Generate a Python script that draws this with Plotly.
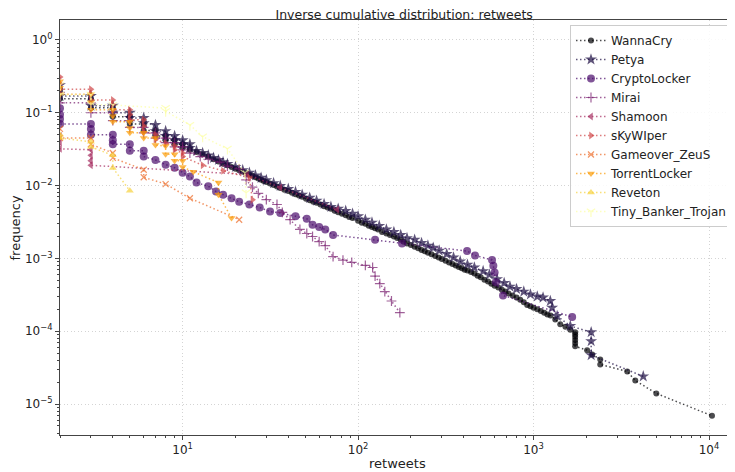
import plotly.graph_objects as go

SERIES_NAMES = ["WannaCry", "Petya", "CryptoLocker", "Mirai", "Shamoon", "sKyWIper",
                "Gameover_ZeuS", "TorrentLocker", "Reveton", "Tiny_Banker_Trojan"]

WANNACRY_X = [2, 2, 3, 3, 4, 4, 5, 5, 6, 6, 7, 7, 8, 8, 9, 9, 10, 10,
              11, 12, 13, 14, 15, 16, 17, 18, 19, 20, 21, 22, 23, 24, 25, 26, 27, 28, 29, 30,
              31.5, 33, 34.5, 36, 38, 40, 42, 44, 46, 48, 50.5, 53, 55.5, 58, 61, 64, 67, 70, 73.5, 77, 81, 85, 89, 93,
              100, 105, 110, 115, 120, 125, 130, 137, 145, 152, 160, 167, 175, 182, 190,
              200, 210, 220, 230, 240, 250, 262, 275, 288, 300, 315, 330, 345, 360, 375, 390, 405, 420, 440, 460, 480, 500,
              525, 550, 575, 600, 630, 660, 690, 720, 760, 800, 840, 880, 920, 960, 1000, 1050, 1100, 1150, 1200, 1250, 1330, 1420,
              1520, 1620, 1727, 1727, 1727, 1727, 1727, 1727,
              2020, 2160, 2400, 2400, 3420, 3800, 5010, 10400]
WANNACRY_Y = [0.20, 0.156, 0.156, 0.117, 0.117, 0.088, 0.088, 0.07, 0.07, 0.057, 0.057, 0.048, 0.048, 0.042, 0.042, 0.037, 0.037, 0.033,
              0.031, 0.029, 0.027, 0.025, 0.023, 0.0215, 0.020, 0.019, 0.018, 0.017, 0.0162, 0.0155, 0.0148, 0.0142, 0.0136, 0.013, 0.0125, 0.012, 0.0116, 0.0112,
              0.0107, 0.0102, 0.0097, 0.0093, 0.0088, 0.0084, 0.008, 0.0076, 0.0073, 0.007, 0.0066, 0.0063, 0.006, 0.0058, 0.0055, 0.0052, 0.005, 0.0048, 0.0045, 0.0043, 0.0041, 0.0039, 0.0037, 0.0036,
              0.0033, 0.0031, 0.003, 0.0028, 0.0027, 0.0026, 0.0025, 0.0023, 0.0022, 0.0021, 0.002, 0.0019, 0.0018, 0.0017, 0.0016,
              0.00153, 0.00145, 0.00138, 0.0013, 0.00125, 0.0012, 0.00114, 0.00108, 0.00103, 0.00098, 0.00093, 0.00088, 0.00084, 0.0008, 0.00076, 0.00073, 0.0007, 0.00068, 0.00065, 0.00062, 0.00058, 0.00055,
              0.00051, 0.00048, 0.00045, 0.00042, 0.0004, 0.00037, 0.00035, 0.00033, 0.00031, 0.00029, 0.00027, 0.00025, 0.00023, 0.00022, 0.00021, 0.0002, 0.00019, 0.00018, 0.00017, 0.000165, 0.000145, 0.000125,
              0.000115, 0.000105, 9.7e-5, 9.0e-5, 8.3e-5, 7.6e-5, 6.9e-5, 6.2e-5,
              5.5e-5, 4.8e-5, 4.1e-5, 3.5e-5, 2.8e-5, 2.1e-5, 1.4e-5, 6.9e-6]

PETYA_X = [2, 2, 3, 3, 4, 4, 5, 5, 6, 6, 7, 7, 8, 8, 9, 9, 10, 10,
           11, 11, 12, 13, 14, 15, 16, 17, 18,
           20, 22, 24, 26, 28, 30,
           33, 36, 40, 44, 48, 53, 58, 64, 70, 77, 85, 93,
           100, 110, 120, 132, 145, 160, 175, 190,
           210, 230, 250, 268, 290, 320, 350, 382, 420, 460,
           516, 560, 620, 680, 734, 800, 880, 960, 1050, 1133,
           1246, 1276, 1363, 1620, 2130, 2130, 2130, 4220]
PETYA_Y = [0.24, 0.17, 0.17, 0.125, 0.125, 0.1, 0.1, 0.085, 0.085, 0.072, 0.068, 0.056, 0.056, 0.048, 0.048, 0.042, 0.042, 0.037,
           0.037, 0.033, 0.03, 0.028, 0.026, 0.024, 0.0225, 0.021, 0.0198,
           0.018, 0.0163, 0.015, 0.0138, 0.0128, 0.0119,
           0.0108, 0.0099, 0.009, 0.0082, 0.0075, 0.0068, 0.0062, 0.0056, 0.0051, 0.0048, 0.0045, 0.0041,
           0.0038, 0.0034, 0.0031, 0.0028, 0.0025, 0.0023, 0.0021, 0.0019,
           0.0018, 0.00163, 0.0015, 0.0014, 0.00128, 0.00115, 0.00103, 0.00091, 0.00082, 0.00075,
           0.00067, 0.0006, 0.00052, 0.00046, 0.00041, 0.00038, 0.00035, 0.00032, 0.0003, 0.00029,
           0.00026, 0.00021, 0.000162, 0.000118, 9.7e-5, 7.3e-5, 4.7e-5, 2.4e-5]

CRYPTO_X = [2, 2, 2, 2, 3, 3, 3, 4, 4, 4, 5, 5, 6, 6,
            7, 8, 9, 10, 11, 12, 14, 15.5, 17, 19, 21, 24,
            27.5, 31.5, 36, 44, 51, 55, 60, 65, 72,
            125, 178, 418, 464, 580, 590, 600, 610, 670, 1660]
CRYPTO_Y = [0.115, 0.095, 0.082, 0.07, 0.07, 0.06, 0.05, 0.05, 0.042, 0.037, 0.037, 0.03, 0.03, 0.025,
            0.0225, 0.0194, 0.0176, 0.015, 0.0133, 0.011, 0.0098, 0.0083, 0.0075, 0.0067, 0.006, 0.0055,
            0.005, 0.0044, 0.0042, 0.0038, 0.0035, 0.0029, 0.0027, 0.0025, 0.0021,
            0.0018, 0.0016, 0.00126, 0.0011, 0.00095, 0.00079, 0.00064, 0.00047, 0.00031, 0.000157]

MIRAI_X = [2, 2, 3, 3, 4, 4, 5, 5, 6, 6, 7, 7, 8, 8, 9, 9, 10, 10,
           11, 12.6, 14, 16.3, 18, 21, 23, 25, 27, 30,
           34.5, 37, 41, 46.6, 51, 55, 60, 65, 72, 82, 92,
           110, 121, 125, 133, 142, 155, 173]
MIRAI_Y = [0.19, 0.137, 0.137, 0.1, 0.1, 0.078, 0.078, 0.063, 0.063, 0.053, 0.053, 0.045, 0.045, 0.039, 0.039, 0.034, 0.034, 0.031,
           0.028, 0.025, 0.023, 0.021, 0.0185, 0.017, 0.012, 0.0095, 0.0078, 0.0064,
           0.0055, 0.0043, 0.0034, 0.0025, 0.0022, 0.002, 0.0017, 0.0015, 0.00106, 0.00095, 0.00088,
           0.0008, 0.00075, 0.00057, 0.00045, 0.00035, 0.00026, 0.00018]

SHAMOON_X = [2, 2, 2, 3, 3, 3, 3, 23.3, 36, 76]
SHAMOON_Y = [0.048, 0.04, 0.032, 0.031, 0.026, 0.022, 0.019, 0.0142, 0.0094, 0.0047]

SKYWIPER_X = [2, 2, 2, 3, 3, 3, 4, 4, 4, 5, 5, 5, 6, 6, 6, 7, 7, 8, 9, 9, 10, 10, 13, 17, 24, 25]
SKYWIPER_Y = [0.31, 0.25, 0.21, 0.21, 0.18, 0.15, 0.15, 0.13, 0.11, 0.11, 0.095, 0.08, 0.08, 0.066, 0.055,
              0.05, 0.043, 0.038, 0.035, 0.031, 0.028, 0.025, 0.019, 0.016, 0.0128, 0.0064]

GAMEOVER_X = [2, 2, 3, 3, 4, 4, 6, 6, 8, 11, 21]
GAMEOVER_Y = [0.06, 0.045, 0.045, 0.037, 0.028, 0.024, 0.0165, 0.013, 0.0105, 0.0067, 0.0034]

TORRENT_X = [2, 2, 2, 3, 3, 3, 4, 4, 4, 5, 5, 5, 6, 6, 7, 7, 8, 8, 9, 9, 10, 10, 11.5, 16, 16, 19]
TORRENT_Y = [0.27, 0.22, 0.18, 0.18, 0.14, 0.11, 0.11, 0.09, 0.075, 0.075, 0.062, 0.053, 0.053, 0.045,
             0.045, 0.036, 0.035, 0.027, 0.027, 0.022, 0.022, 0.018, 0.0155, 0.011, 0.0075, 0.0036]

REVETON_X = [2, 2, 3, 3, 4, 4, 5]
REVETON_Y = [0.05, 0.045, 0.04, 0.034, 0.026, 0.0175, 0.0085]

TINY_X = [2, 2, 3, 3, 4, 8, 8, 11, 13, 18, 22.6, 23]
TINY_Y = [0.24, 0.176, 0.176, 0.13, 0.128, 0.116, 0.105, 0.068, 0.047, 0.032, 0.015, 0.008]

SERIES_X = [WANNACRY_X, PETYA_X, CRYPTO_X, MIRAI_X, SHAMOON_X, SKYWIPER_X,
            GAMEOVER_X, TORRENT_X, REVETON_X, TINY_X]
SERIES_Y = [WANNACRY_Y, PETYA_Y, CRYPTO_Y, MIRAI_Y, SHAMOON_Y, SKYWIPER_Y,
            GAMEOVER_Y, TORRENT_Y, REVETON_Y, TINY_Y]

COLORS = [(0, 0, 4), (27, 12, 65), (74, 12, 107), (120, 28, 109), (165, 44, 96),
          (207, 68, 70), (237, 105, 37), (251, 155, 6), (247, 209, 61), (252, 255, 164)]
SYMBOLS = ["circle", "star", "circle", "cross-thin-open", "triangle-left", "triangle-right",
           "x-thin-open", "triangle-down", "triangle-up", "y-down-open"]
SIZES = [6, 9, 8, 7, 7, 7, 6, 7, 7, 7]
ALPHA = 0.7

X_TICKS = [10, 100, 1000, 10000]
X_TICKTEXT = ["10<sup>1</sup>", "10<sup>2</sup>", "10<sup>3</sup>", "10<sup>4</sup>"]
Y_TICKS = [1, 0.1, 0.01, 0.001, 0.0001, 0.00001]
Y_TICKTEXT = ["10<sup>0</sup>", "10<sup>−1</sup>", "10<sup>−2</sup>", "10<sup>−3</sup>",
              "10<sup>−4</sup>", "10<sup>−5</sup>"]

FONT = "DejaVu Sans"

# The page body has an 8px margin, so the figure is sized to fit the window exactly.
FIG_W, FIG_H = 727, 464
M_L, M_R, M_T, M_B = 52, 1, 12, 37
PLOT_W = FIG_W - M_L - M_R
PLOT_H = FIG_H - M_T - M_B

fig = go.Figure()
for name, xs, ys, c, sym, sz in zip(SERIES_NAMES, SERIES_X, SERIES_Y, COLORS, SYMBOLS, SIZES):
    rgba = "rgba(%d,%d,%d,%.2f)" % (c[0], c[1], c[2], ALPHA)
    is_open = sym.endswith("-open")
    marker = dict(symbol=sym, size=sz, color=rgba)
    if is_open:
        marker["line"] = dict(color=rgba, width=1.2)
    else:
        marker["line"] = dict(width=0)
    fig.add_trace(go.Scatter(
        x=xs, y=ys, name=name, mode="lines+markers",
        line=dict(color=rgba, width=1.5, dash="1.5px,2.5px"),
        marker=marker,
    ))

minor_vals = [m * 10 ** e for e in range(-7, 6) for m in range(2, 10)]

axis_common = dict(
    type="log", automargin=False,
    showline=True, mirror=True, linecolor="#444", linewidth=1,
    ticks="outside", ticklen=4, tickcolor="#444",
    showgrid=True, gridcolor="#d4d4d4", griddash="1px,2.5px", gridwidth=1,
    zeroline=False,
    tickfont=dict(family=FONT, size=12, color="#222"),
    minor=dict(tickmode="array", tickvals=minor_vals, ticks="outside", ticklen=2,
               tickcolor="#444", showgrid=False),
)

fig.update_xaxes(**axis_common, range=[0.30103, 4.1425], tickmode="array",
                 tickvals=X_TICKS, ticktext=X_TICKTEXT)
fig.update_yaxes(**axis_common, range=[-5.425, 0.274], tickmode="array",
                 tickvals=Y_TICKS, ticktext=Y_TICKTEXT)

fig.update_layout(
    width=FIG_W, height=FIG_H,
    margin=dict(l=M_L, r=M_R, t=M_T, b=M_B, autoexpand=False),
    paper_bgcolor="white", plot_bgcolor="white",
    title=dict(text="Inverse cumulative distribution: retweets", x=0.545, xanchor="center",
               y=1 - 6.5 / FIG_H, yanchor="middle", yref="container",
               font=dict(family=FONT, size=12.5, color="#222")),
    legend=dict(x=0.9985, y=0.988, xanchor="right", yanchor="top",
                bgcolor="rgba(255,255,255,0.85)", bordercolor="#cccccc", borderwidth=1,
                font=dict(family=FONT, size=12, color="#222"), tracegroupgap=0),
    showlegend=True,
    annotations=[
        dict(text="retweets", xref="paper", yref="paper", x=0.5, y=-28 / PLOT_H,
             xanchor="center", yanchor="middle", showarrow=False,
             font=dict(family=FONT, size=13, color="#222")),
        dict(text="frequency", xref="paper", yref="paper", x=-45 / PLOT_W, y=0.5,
             xanchor="center", yanchor="middle", showarrow=False, textangle=-90,
             font=dict(family=FONT, size=13, color="#222")),
    ],
)

fig.write_html("out.html")
